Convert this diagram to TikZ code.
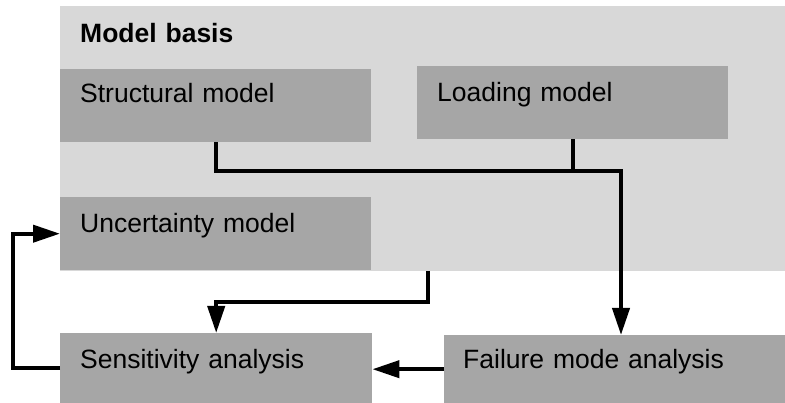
\documentclass[tikz,border=0pt]{standalone}
\usepackage{fontspec}
\setmainfont{Liberation Sans}
\usetikzlibrary{arrows.meta,calc}
\definecolor{lightbg}{HTML}{D8D8D8}
\definecolor{boxgrey}{HTML}{A6A6A6}
\begin{document}
\begin{tikzpicture}[x=1pt,y=-1pt,
  every node/.style={font=\fontsize{26.5}{30}\selectfont},
  greybox/.style={draw=none,fill=boxgrey,anchor=north west,inner ysep=0pt,inner xsep=20pt,align=left},
  conn/.style={line width=4pt,draw=black,line join=miter},
  arr/.style={conn,-{Triangle[length=27pt,width=17pt]}}]
\useasboundingbox (0,0) rectangle (785,403);
\node[anchor=north west,fill=lightbg,inner ysep=0pt,inner xsep=20pt,align=left,
  text width=685pt,text height=36pt,text depth=229pt,font=\fontsize{26.5}{30}\selectfont\bfseries]
  (basis) at (60,6) {Model basis};
\node[greybox,text width=271pt,text height=33pt,text depth=40pt] (struct) at (60,69) {Structural model};
\node[greybox,text width=271pt,text height=35pt,text depth=38pt] (load) at (417,66) {Loading model};
\node[greybox,text width=271pt,text height=35pt,text depth=38pt] (unc) at (60,197) {Uncertainty model};
\node[greybox,text width=272pt,text height=35pt,text depth=35pt] (sens) at (60,333) {Sensitivity analysis};
\node[greybox,inner xsep=19pt,text width=303pt,text height=33pt,text depth=35pt] (fail) at (444,335) {Failure mode analysis};
\coordinate (j) at (621,171);
\coordinate (u1) at (428,271);
\coordinate (u2) at (428,302);
\draw[arr] (struct.south) |- (j) -- (j |- fail.north);
\draw[conn] (load.south) -- (load.south |- j);
\draw[arr] (u1) -- (u2) -| (sens.north);
\draw[arr] (fail.west) -- (fail.west -| sens.east);
\draw[arr] (sens.west) -- ++(-47,0) |- (unc.west);
\end{tikzpicture}
\end{document}
